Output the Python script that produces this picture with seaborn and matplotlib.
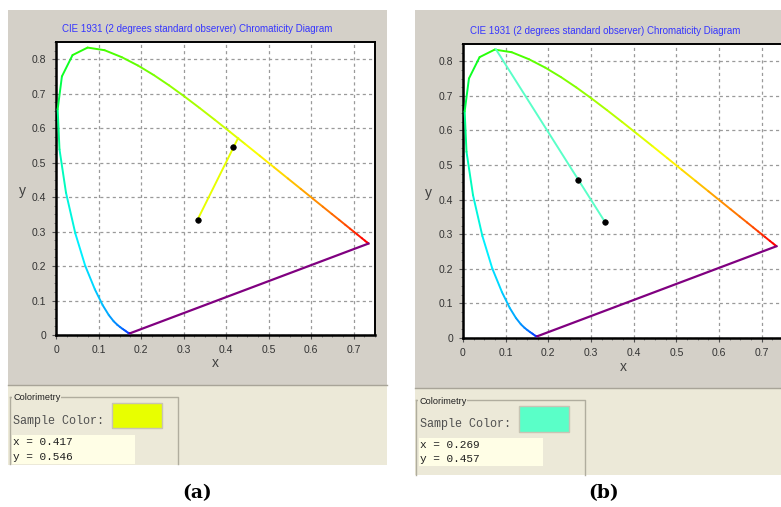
import numpy as np
import matplotlib
matplotlib.use("Agg")
import matplotlib.pyplot as plt
import seaborn as sns
import pandas as pd
from matplotlib.collections import LineCollection
from matplotlib.colors import LinearSegmentedColormap, Normalize
from matplotlib.patches import Rectangle
from matplotlib.ticker import MultipleLocator

# ---------------- data ----------------
wavelengths = [380, 390, 400, 410, 420, 430, 440, 445, 450, 455, 460, 465, 470, 475,
               480, 485, 490, 495, 500, 505, 510, 515, 520, 525, 530, 535, 540, 545,
               550, 555, 560, 565, 570, 575, 580, 585, 590, 595, 600, 605, 610, 615,
               620, 625, 630, 640, 650, 660, 680, 700]
locus_x = [0.1741, 0.1738, 0.1733, 0.1726, 0.1714, 0.1689, 0.1644, 0.1611, 0.1566, 0.1510,
           0.1440, 0.1355, 0.1241, 0.1096, 0.0913, 0.0687, 0.0454, 0.0235, 0.0082, 0.0039,
           0.0139, 0.0389, 0.0743, 0.1142, 0.1547, 0.1929, 0.2296, 0.2658, 0.3016, 0.3373,
           0.3731, 0.4087, 0.4441, 0.4788, 0.5125, 0.5448, 0.5752, 0.6029, 0.6270, 0.6482,
           0.6658, 0.6801, 0.6915, 0.7006, 0.7079, 0.7190, 0.7260, 0.7300, 0.7334, 0.7347]
locus_y = [0.0050, 0.0049, 0.0048, 0.0048, 0.0051, 0.0069, 0.0109, 0.0138, 0.0177, 0.0227,
           0.0297, 0.0399, 0.0578, 0.0868, 0.1327, 0.2007, 0.2950, 0.4127, 0.5384, 0.6548,
           0.7502, 0.8120, 0.8338, 0.8262, 0.8059, 0.7816, 0.7543, 0.7243, 0.6923, 0.6589,
           0.6245, 0.5896, 0.5547, 0.5202, 0.4866, 0.4544, 0.4242, 0.3965, 0.3725, 0.3514,
           0.3340, 0.3197, 0.3083, 0.2993, 0.2920, 0.2809, 0.2740, 0.2700, 0.2666, 0.2653]

white_x, white_y = 0.333, 0.335
panel_labels = ["(a)", "(b)"]
sample_x = [0.417, 0.269]
sample_y = [0.546, 0.457]
dominant_x = [0.428, 0.077]
dominant_y = [0.571, 0.835]
sample_colors = ["#e8ff00", "#5affc8"]
x_ticks = [0, 0.1, 0.2, 0.3, 0.4, 0.5, 0.6, 0.7]
y_ticks = [0, 0.1, 0.2, 0.3, 0.4, 0.5, 0.6, 0.7, 0.8]
title = "CIE 1931 (2 degrees standard observer) Chromaticity Diagram"

# ---------------- style / layout ----------------
W, H = 781, 507
fig = plt.figure(figsize=(W / 100, H / 100), dpi=100)
fig.patch.set_facecolor("white")

GRAY = "#d4d0c8"
BEIGE = "#ece9d8"

bg = fig.add_axes([0, 0, 1, 1], zorder=0)
bg.set_xlim(0, W)
bg.set_ylim(H, 0)
bg.axis("off")

layouts = [
    dict(gray=(8, 10, 387, 385), beige=(8, 385, 387, 465), ax=(56, 42, 375, 335),
         title=(197, 29), frame=(10, 397, 178, 464), sample_txt=(13, 421),
         swatch=(112, 403, 162, 428), ybox=(12, 435, 135, 464), xy_txt=(13, 442, 457),
         ylab=(22, 191), xlab=(215, 363), cap=(197, 493)),
    dict(gray=(415, 10, 781, 388), beige=(415, 388, 781, 475), ax=(463, 44, 783, 338),
         title=(605, 31), frame=(416, 400, 585, 475), sample_txt=(420, 424),
         swatch=(519, 406, 569, 432), ybox=(419, 438, 543, 466), xy_txt=(420, 445, 459),
         ylab=(428, 193), xlab=(623, 367), cap=(604, 493)),
]

cmap = LinearSegmentedColormap.from_list("spec", [
    (0.00, "#4000ff"), (60 / 320, "#0040ff"), (90 / 320, "#00a0ff"),
    (108 / 320, "#00f0ff"), (120 / 320, "#00ffb0"), (130 / 320, "#00ff30"),
    (140 / 320, "#30ff00"), (165 / 320, "#88ff00"), (185 / 320, "#d0ff00"),
    (195 / 320, "#ffff00"), (205 / 320, "#ffd000"), (215 / 320, "#ff9900"),
    (230 / 320, "#ff6000"), (250 / 320, "#ff2000"), (270 / 320, "#ff0000"),
    (1.0, "#ff0000")])
norm = Normalize(380, 700)

for i, L in enumerate(layouts):
    gx0, gy0, gx1, gy1 = L["gray"]
    bg.add_patch(Rectangle((gx0, gy0), gx1 - gx0, gy1 - gy0, fc=GRAY, ec="none"))
    bx0, by0, bx1, by1 = L["beige"]
    bg.add_patch(Rectangle((bx0, by0), bx1 - bx0, by1 - by0, fc=BEIGE, ec="none"))
    bg.plot([bx0, bx1], [by0, by0], color="#a8a498", lw=1)
    bg.text(L["title"][0], L["title"][1], title, ha="center", va="center",
            fontsize=7, color="#3535ff", family="Liberation Sans")
    fx0, fy0, fx1, fy1 = L["frame"]
    bg.plot([fx0, fx1, fx1], [fy0, fy0, fy1], color="#b0ad9e", lw=1)
    bg.plot([fx0, fx0], [fy0, fy1], color="#b0ad9e", lw=1)
    bg.text(fx0 + 3, fy0 + 1, "Colorimetry", ha="left", va="center", fontsize=6.6,
            color="#202020", family="Liberation Sans",
            bbox=dict(fc=BEIGE, ec="none", pad=0.5))
    bg.text(L["sample_txt"][0], L["sample_txt"][1], "Sample Color:", ha="left", va="center",
            fontsize=8.5, color="#505050", family="Liberation Mono")
    sx0, sy0, sx1, sy1 = L["swatch"]
    bg.add_patch(Rectangle((sx0, sy0), sx1 - sx0, sy1 - sy0, fc=sample_colors[i],
                           ec="#c8c4b4", lw=1))
    yx0, yy0, yx1, yy1 = L["ybox"]
    bg.add_patch(Rectangle((yx0, yy0), yx1 - yx0, yy1 - yy0, fc="#fffee6", ec="none"))
    tx, ty1, ty2 = L["xy_txt"]
    bg.text(tx, ty1, f"x = {sample_x[i]:.3f}", ha="left", va="center", fontsize=8,
            color="#202020", family="Liberation Mono")
    bg.text(tx, ty2, f"y = {sample_y[i]:.3f}", ha="left", va="center", fontsize=8,
            color="#202020", family="Liberation Mono")
    bg.text(L["cap"][0], L["cap"][1], panel_labels[i], ha="center", va="center",
            fontsize=13.5, fontweight="bold", color="black", family="DejaVu Serif")

    ax0, ay0, ax1, ay1 = L["ax"]
    ax = fig.add_axes([ax0 / W, 1 - ay1 / H, (ax1 - ax0) / W, (ay1 - ay0) / H], zorder=2)
    ax.set_facecolor("white")
    ax.set_xlim(0, 0.75)
    ax.set_ylim(0, 0.85)
    ax.set_xticks(x_ticks)
    ax.set_yticks(y_ticks)
    fmt = lambda v: "0" if v == 0 else f"{v:g}"
    ax.set_xticklabels([fmt(v) for v in x_ticks], family="Liberation Sans")
    ax.set_yticklabels([fmt(v) for v in y_ticks], family="Liberation Sans")
    ax.xaxis.set_minor_locator(MultipleLocator(0.025))
    ax.yaxis.set_minor_locator(MultipleLocator(0.025))
    ax.tick_params(which="major", direction="out", length=3, width=0.8, color="#505050",
                   labelsize=7.5, labelcolor="#333333", pad=4)
    ax.tick_params(which="minor", direction="out", length=1.5, width=0.6, color="#707070")
    ax.grid(True, which="major", ls=(0, (2.5, 2.5)), color="#9a9a9a", lw=0.9)
    ax.set_axisbelow(True)
    for s in ax.spines.values():
        s.set_color("black")
        s.set_linewidth(1.4)
    ax.spines["left"].set_linewidth(1.8)
    ax.spines["bottom"].set_linewidth(1.8)

    pts = np.column_stack([locus_x, locus_y])
    segs = np.stack([pts[:-1], pts[1:]], axis=1)
    mids = (np.array(wavelengths[:-1]) + np.array(wavelengths[1:])) / 2
    lc = LineCollection(segs, colors=cmap(norm(mids)), linewidths=1.4, zorder=3,
                        capstyle="round", joinstyle="round")
    ax.add_collection(lc)

    purple = pd.DataFrame({"x": [locus_x[-1], locus_x[0]], "y": [locus_y[-1], locus_y[0]]})
    sns.lineplot(data=purple, x="x", y="y", sort=False, color="#800080", lw=1.6,
                 ax=ax, zorder=3, estimator=None)

    dom = pd.DataFrame({"x": [white_x, dominant_x[i]], "y": [white_y, dominant_y[i]]})
    sns.lineplot(data=dom, x="x", y="y", sort=False, color=sample_colors[i], lw=1.4,
                 ax=ax, zorder=4, estimator=None)
    pts_df = pd.DataFrame({"x": [white_x, sample_x[i]], "y": [white_y, sample_y[i]]})
    sns.scatterplot(data=pts_df, x="x", y="y", color="black", s=16, edgecolor="black",
                    linewidth=0.5, ax=ax, zorder=5)

    ax.set_xlabel("x", fontsize=10, color="#404040", family="Liberation Sans")
    ax.set_ylabel("y", fontsize=10, color="#404040", family="Liberation Sans",
                  rotation=0, ha="center", va="center")
    ax.xaxis.set_label_coords((L["xlab"][0] - ax0) / (ax1 - ax0),
                              -(L["xlab"][1] - ay1) / (ay1 - ay0))
    ax.yaxis.set_label_coords((L["ylab"][0] - ax0) / (ax1 - ax0),
                              (ay1 - L["ylab"][1]) / (ay1 - ay0))
    ax.xaxis.label.set_va("center")

fig.savefig("out.png", dpi=100, facecolor="white")
